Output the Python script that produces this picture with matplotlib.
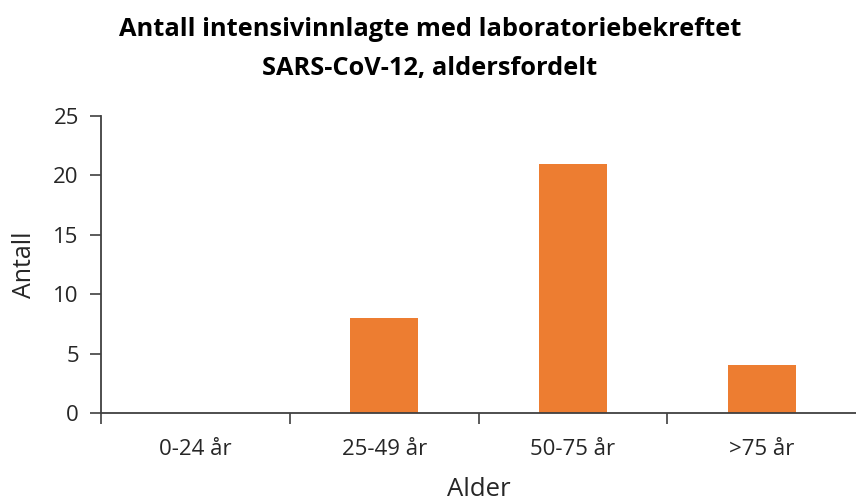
import matplotlib
matplotlib.use("Agg")
import matplotlib.pyplot as plt

# Data
kategorier = ["0-24 år", "25-49 år", "50-75 år", ">75 år"]
antall = [0, 8, 21, 4]
y_ticks = [0, 5, 10, 15, 20, 25]

plt.rcParams['font.family'] = ['Open Sans', 'DejaVu Sans']

fig = plt.figure(figsize=(8.56, 5.01), dpi=100)
ax = fig.add_axes([0.118, 0.1756, 0.882, 0.5929])

x = list(range(len(kategorier)))
ax.bar(x, antall, width=0.36, color="#ED7D31")

ax.set_xlim(-0.5, len(kategorier) - 0.5)
ax.set_ylim(0, 25)
ax.set_yticks(y_ticks)
ax.set_yticklabels([str(v) for v in y_ticks], fontsize=16, color="#262626")

# category boundaries as tick marks, labels in the middle
ax.set_xticks([i - 0.5 for i in range(len(kategorier))])
ax.set_xticklabels([])
ax.set_xticks(x, minor=True)
ax.set_xticklabels(kategorier, minor=True, fontsize=16, color="#262626")
ax.tick_params(axis="x", which="major", length=8, width=1.2, color="#404040", direction="out")
ax.tick_params(axis="x", which="minor", length=0, pad=19)
ax.tick_params(axis="y", length=8, width=1.2, color="#404040", pad=8)

for s in ["top", "right"]:
    ax.spines[s].set_visible(False)
for s in ["left", "bottom"]:
    ax.spines[s].set_color("#404040")
    ax.spines[s].set_linewidth(1.3)

ax.set_xlabel("Alder", fontsize=18.5, color="#262626", labelpad=12)
ax.set_ylabel("Antall", fontsize=18, color="#262626", labelpad=12)

fig.text(0.502, 0.942, "Antall intensivinnlagte med laboratoriebekreftet",
         ha="center", va="center", fontsize=18.3, fontweight="bold")
fig.text(0.502, 0.863, "SARS-CoV-12, aldersfordelt",
         ha="center", va="center", fontsize=18.3, fontweight="bold")

fig.savefig("out.png", dpi=100)
